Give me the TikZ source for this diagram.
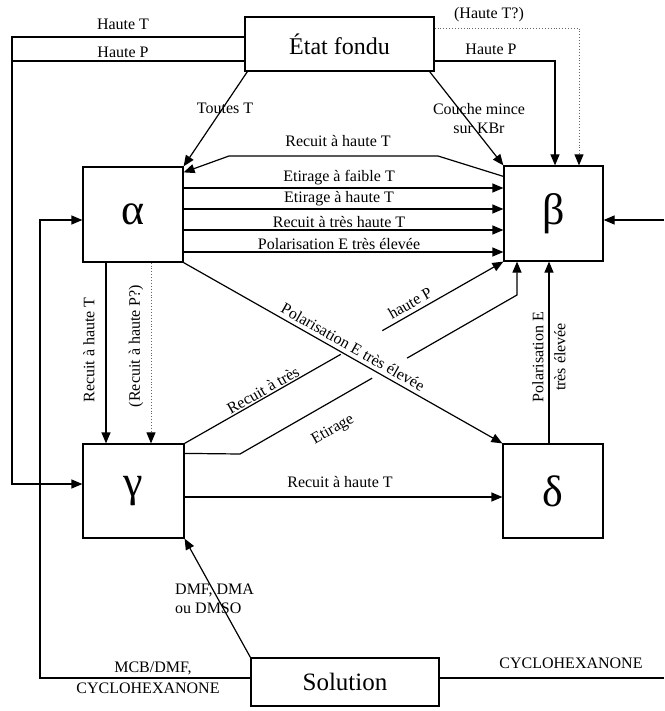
\documentclass[tikz,border=0pt]{standalone}
\usepackage{fontspec}
\setmainfont{Liberation Serif}
\usetikzlibrary{arrows.meta,calc}
\begin{document}
\begin{tikzpicture}[x=1pt,y=-1pt,
 greek/.style={draw,line width=1.2pt,inner sep=0pt,font=\fontsize{44}{48}\selectfont},
 bigbox/.style={draw,line width=1.2pt,inner sep=0pt,font=\fontsize{24}{28}\selectfont},
 conn/.style={line width=1.2pt},
 arr/.style={conn,-{Triangle[length=11pt,width=9pt]}},
 dotarr/.style={line width=0.9pt,dotted,black!60,-{Triangle[length=11pt,width=9pt,black]}},
 lbl/.style={font=\fontsize{16}{19}\selectfont,inner sep=0pt},
]
\useasboundingbox (0,0) rectangle (664,711);

% boxes
\node[bigbox,minimum width=189pt,minimum height=54pt] (etat) at (339.5,44) {État fondu};
\node[greek,minimum width=100pt,minimum height=95pt] (alpha) at (133,214.5) {α};
\node[greek,minimum width=99pt,minimum height=95pt] (beta) at (553.5,213.5) {β};
\node[greek,minimum width=101pt,minimum height=94pt] (gamma) at (133.5,491) {γ};
\node[greek,minimum width=100pt,minimum height=94pt] (delta) at (553,491) {δ};
\node[bigbox,minimum width=188pt,minimum height=48pt,font=\fontsize{25}{28}\selectfont] (sol) at (345,682) {Solution};

% left loops from Etat fondu
\coordinate (L1) at (12,37);
\coordinate (L2) at (12,484);
\coordinate (L3) at (12,61);
\draw[arr] (etat.west |- L1) -- (L1) -- (L2) -- (gamma.west |- L2);
\draw[conn] (etat.west |- L3) -- (L3);
\node[lbl] at (123,24) {Haute T};
\node[lbl] at (123,52) {Haute P};

% right from Etat fondu
\coordinate (R1) at (579,28);
\coordinate (R2) at (555,61);
\draw[dotarr] (etat.east |- R1) -- (R1) -- (R1 |- beta.north);
\draw[arr] (etat.east |- R2) -- (R2) -- (R2 |- beta.north);
\node[lbl] at (489,15) {(Haute T?)};
\node[lbl] at (491,49) {Haute P};

% diagonals from Etat fondu
\draw[arr] ($(etat.south east)+(-5,0)$) -- (beta.north west);
\node[lbl,align=center] at (479,119) {Couche mince\\sur KBr};
\draw[arr] ($(etat.south west)+(3,0)$) -- (alpha.north east);
\node[lbl] at (225,108) {Toutes T};

% beta -> alpha
\coordinate (T1) at (438,156);
\coordinate (T2) at (229,156);
\draw[arr] ($(beta.north west)+(0,11)$) -- (T1) -- (T2) -- ($(alpha.north east)+(0,6)$);
\node[lbl] at (338,141) {Recuit à haute T};

% alpha -> beta horizontals
\foreach \yy/\txt in {188/Etirage à faible T,209/Etirage à haute T,230/Recuit à très haute T,252/Polarisation E très élevée}{
  \coordinate (hy) at (0,\yy);
  \draw[arr] (alpha.east |- hy) -- (beta.west |- hy) node[lbl,pos=0.486,anchor=south,yshift=2pt] {\txt};
}

% alpha -> gamma
\coordinate (V1) at (106,0);
\coordinate (V2) at (151,0);
\draw[arr] (alpha.south -| V1) -- (gamma.north -| V1);
\draw[dotarr] (alpha.south -| V2) -- (gamma.north -| V2);
\node[lbl,rotate=90] at (89,350) {Recuit à haute T};
\node[lbl,rotate=90] at (136,346) {(Recuit à haute P?)};

% alpha -> delta
\draw[arr] (alpha.south east) -- (delta.north west);
\node[lbl,rotate=-29.6] at (353,347) {Polarisation E très élevée};

% gamma -> beta (Recuit a tres haute P)
\path (gamma.north east) -- coordinate[pos=0.49] (g1) coordinate[pos=0.62] (g2) (beta.south west);
\draw[conn] (gamma.north east) -- (g1);
\draw[arr] (g2) -- (beta.south west);
\node[lbl,rotate=29.6] at (263,390) {Recuit à très};
\node[lbl,rotate=29.6] at (410,303) {haute P};

% gamma -> beta (Etirage)
\coordinate (e1) at (240,454);
\coordinate (e2) at (517,295);
\path (e1) -- coordinate[pos=0.477] (e3) coordinate[pos=0.603] (e4) (e2);
\draw[conn] ($(gamma.north east)+(0,10)$) -- (e1) -- (e3);
\draw[arr] (e4) -- (e2) -- (e2 |- beta.south);
\node[lbl,rotate=29.9] at (333,430) {Etirage};

% delta -> beta
\coordinate (V3) at (549,0);
\draw[arr] (delta.north -| V3) -- (beta.south -| V3);
\node[lbl,rotate=90,align=center,font=\fontsize{16}{22}\selectfont] at (549,357) {Polarisation E\\très élevée};

% gamma -> delta
\coordinate (H5) at (0,497);
\draw[arr] (gamma.east |- H5) -- (delta.west |- H5);
\node[lbl] at (340,482) {Recuit à haute T};

% into beta from right
\coordinate (Rin) at (664,220);
\draw[arr] (Rin) -- (beta.east |- Rin);

% solution -> gamma
\draw[arr] (sol.north west) -- (gamma.south east);
\node[lbl,anchor=west,align=left] at (175,599) {DMF, DMA\\ou DMSO};

% solution -> alpha
\coordinate (M1) at (40,678);
\coordinate (M2) at (40,220);
\draw[arr] (sol.west |- M1) -- (M1) -- (M2) -- (alpha.west |- M2);
\node[lbl] at (153,668) {MCB/DMF,};
\node[lbl] at (148,688) {CYCLOHEXANONE};

% solution -> right
\coordinate (S1) at (664,678);
\draw[conn] (sol.east |- S1) -- (S1);
\node[lbl] at (571,663) {CYCLOHEXANONE};
\end{tikzpicture}
\end{document}
